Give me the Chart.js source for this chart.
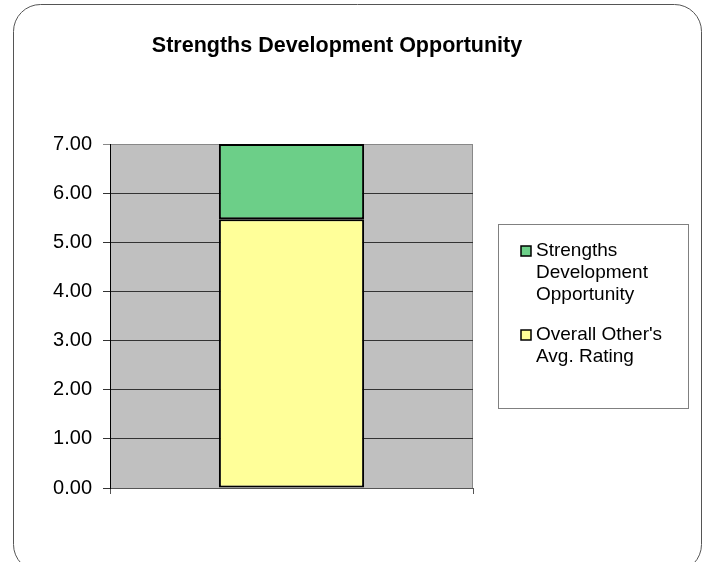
<!DOCTYPE html>
<html>
<head>
<meta charset="utf-8">
<script src="https://cdn.jsdelivr.net/npm/chart.js@4/dist/chart.umd.min.js"></script>
<style>
  body { margin: 0; background: #fff; }
  #wrap { position: relative; width: 709px; height: 562px; }
</style>
</head>
<body>
<div id="wrap"><canvas id="oppChart" width="709" height="562"></canvas></div>
<script>
// dados do grafico
const categories = [''];
const avgRating = [5.47];
const devOpportunity = [1.53];
const yTicks = [0, 1, 2, 3, 4, 5, 6, 7];
const chartTitle = 'Strengths Development Opportunity';
const seriesNames = ["Overall Other's Avg. Rating", 'Strengths Development Opportunity'];

const FONT = '"Liberation Sans", Arial, sans-serif';

// moldura arredondada, fundo da area do grafico e titulo
const framePlugin = {
    id: 'frame',
    beforeDraw(chart) {
        const ctx = chart.ctx;
        const a = chart.chartArea;
        ctx.save();
        ctx.strokeStyle = '#555';
        ctx.lineWidth = 1;
        ctx.beginPath();
        ctx.roundRect(13.5, 4.5, 688, 567, 27);
        ctx.stroke();
        ctx.fillStyle = '#c0c0c0';
        ctx.fillRect(a.left, a.top, a.right - a.left, a.bottom - a.top);
        ctx.strokeStyle = '#888';
        ctx.strokeRect(a.left + 0.5, a.top + 0.5, a.right - a.left - 1, a.bottom - a.top);
        ctx.fillStyle = '#000';
        ctx.font = 'bold 21.5px ' + FONT;
        ctx.textAlign = 'center';
        ctx.textBaseline = 'alphabetic';
        ctx.fillText(chartTitle, 337, 52);
        ctx.restore();
    }
};

// legenda em caixa, como no Excel (ordem invertida)
const boxLegend = {
    id: 'boxLegend',
    afterDraw(chart) {
        const ctx = chart.ctx;
        ctx.save();
        ctx.strokeStyle = '#808080';
        ctx.lineWidth = 1;
        ctx.strokeRect(498.5, 224.5, 190, 184);
        ctx.font = '19px ' + FONT;
        ctx.textBaseline = 'alphabetic';
        ctx.textAlign = 'left';
        let y = 256;
        const sets = chart.data.datasets.slice().reverse();
        sets.forEach(ds => {
            ctx.fillStyle = ds.backgroundColor;
            ctx.fillRect(521, y - 10, 10, 10);
            ctx.strokeStyle = '#000';
            ctx.lineWidth = 1.5;
            ctx.strokeRect(521, y - 10, 10, 10);
            const words = ds.label.split(' ');
            const lines = [];
            let line = '';
            words.forEach(w => {
                const test = line ? line + ' ' + w : w;
                if (ctx.measureText(test).width > 148 && line) {
                    lines.push(line);
                    line = w;
                } else {
                    line = test;
                }
            });
            lines.push(line);
            ctx.fillStyle = '#000';
            lines.forEach((l, i) => ctx.fillText(l, 536, y + i * 22));
            y += lines.length * 22 + 18;
        });
        ctx.restore();
    }
};

const ctx = document.getElementById('oppChart').getContext('2d');
new Chart(ctx, {
    type: 'bar',
    data: {
        labels: categories,
        datasets: [{
            label: seriesNames[0],
            data: avgRating,
            backgroundColor: '#ffff99',
            borderColor: '#000',
            borderWidth: 2,
            borderSkipped: false,
            barPercentage: 0.4,
            categoryPercentage: 1
        }, {
            label: seriesNames[1],
            data: devOpportunity,
            backgroundColor: '#6ccf88',
            borderColor: '#000',
            borderWidth: 2,
            borderSkipped: false,
            barPercentage: 0.4,
            categoryPercentage: 1
        }]
    },
    options: {
        responsive: false,
        animation: false,
        layout: { padding: { left: 40, right: 236, top: 144, bottom: 64 } },
        plugins: {
            legend: { display: false },
            title: { display: false },
            tooltip: { enabled: false }
        },
        scales: {
            x: {
                stacked: true,
                offset: true,
                grid: { offset: true, drawOnChartArea: false, tickLength: 6, color: '#555' },
                border: { color: '#555' },
                ticks: { display: false },
                afterFit(axis) { axis.height = 10; }
            },
            y: {
                stacked: true,
                min: 0,
                max: 7,
                afterBuildTicks(axis) { axis.ticks = yTicks.map(v => ({ value: v })); },
                grid: {
                    tickLength: 7,
                    color: c => (c.tick && c.tick.value === 7) ? '#888' : '#333'
                },
                border: { color: '#000', width: 1 },
                ticks: {
                    padding: 11,
                    color: '#000',
                    font: { family: FONT, size: 20 },
                    callback: v => Number(v).toFixed(2)
                },
                afterFit(axis) { axis.width = 70; }
            }
        }
    },
    plugins: [framePlugin, boxLegend]
});
</script>
</body>
</html>
